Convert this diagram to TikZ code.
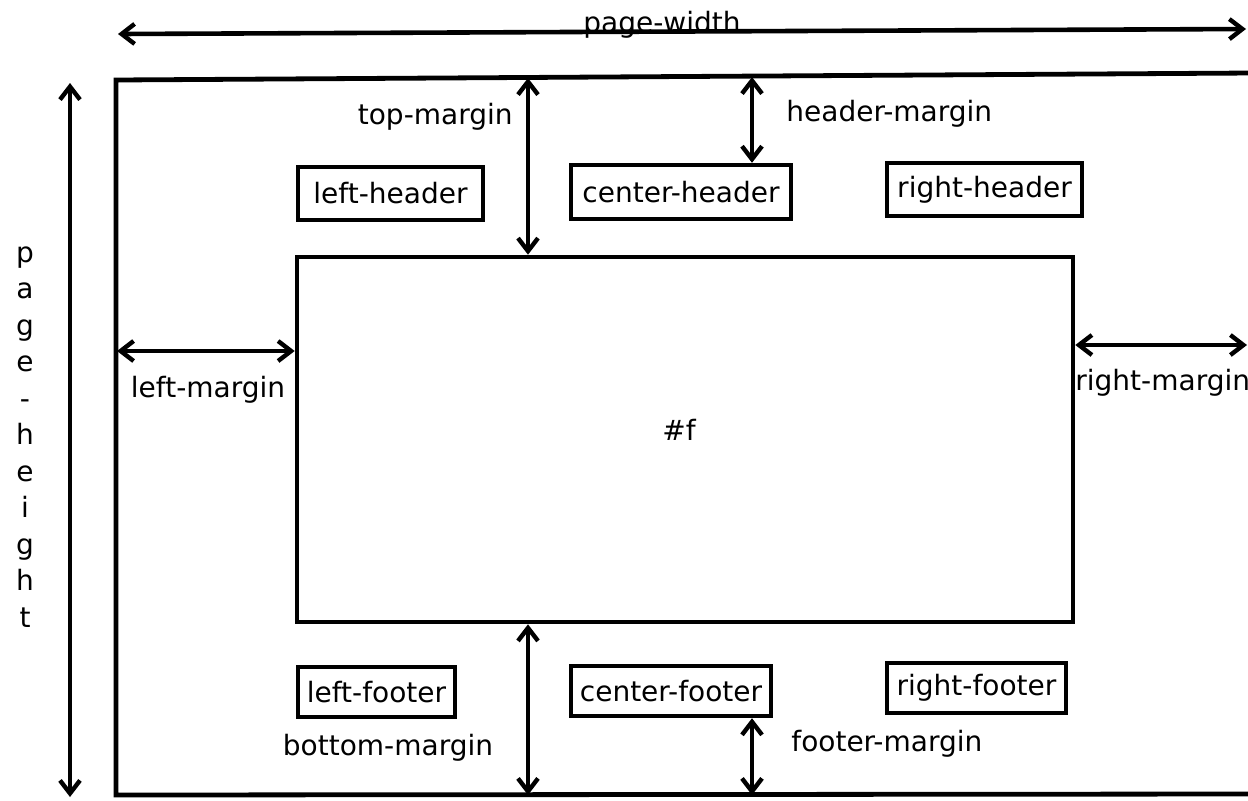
\documentclass[tikz,border=0pt]{standalone}
\usepackage{fontspec}
\setmainfont{DejaVu Sans}
\usetikzlibrary{arrows.meta}
\begin{document}
\begin{tikzpicture}[x=0.5pt,y=-0.5pt,
  lbl/.style={font=\fontsize{14}{18}\selectfont, inner sep=0pt},
  hbox/.style={draw, line width=2.2pt, font=\fontsize{14}{18}\selectfont, inner sep=0pt},
  barb/.tip={Straight Barb[length=6.5pt,width=10pt,line width=2.2pt]},
  dim/.style={line width=2.3pt, barb-barb},
  frameline/.style={line width=2.4pt, line join=miter}]
\useasboundingbox (0,0) rectangle (1248,800);

% page frame (open on the right, cut by the picture edge)
\coordinate (pTR) at (1252,73);
\coordinate (pTL) at (116,80);
\coordinate (pBL) at (116,795);
\coordinate (pBR) at (1252,794);
\draw[frameline] (pTR) -- (pTL) -- (pBL) -- (pBR);

% header / footer boxes
\node[hbox, minimum width=92.5pt, minimum height=26.5pt] (lhead) at (390.5,193.5) {left-header};
\node[hbox, minimum width=110pt,  minimum height=27pt]   (chead) at (681,192)     {center-header};
\node[hbox, minimum width=97.5pt, minimum height=26.5pt] (rhead) at (984.5,189.5) {right-header};
\node[hbox, minimum width=78.5pt, minimum height=25pt]   (lfoot) at (376.5,692)   {left-footer};
\node[hbox, minimum width=100pt,  minimum height=25pt]   (cfoot) at (671,691)     {center-footer};
\node[hbox, minimum width=89.5pt, minimum height=25pt]   (rfoot) at (976.5,688)   {right-footer};

% main body box
\node[draw, line width=2.3pt, minimum width=388pt, minimum height=182.5pt, inner sep=0pt] (main) at (685,439.5) {};
\node[lbl, anchor=base] (ftxt) at (679,440) {\#f};

% page-width
\coordinate (pwL) at (118,34);
\coordinate (pwR) at (1246,29);
\draw[dim] (pwL) -- (pwR);
\node[lbl, anchor=base] (pwlab) at (662,32) {page-width};

% page-height
\coordinate (phT) at (70,83);
\coordinate (phB) at (70,797);
\draw[dim] (phT) -- (phB);
\foreach \c [count=\i] in {p,a,g,e,-,h,e,i,g,h,t}
  \node[lbl, anchor=base] (ph\i) at (25,{262+36.5*(\i-1)}) {\c};

% top-margin
\coordinate (tmT) at (528,78);
\draw[dim] (tmT) -- (main.north -| tmT);
\node[lbl, anchor=base east] (tmlab) at (513,124) {top-margin};

% header-margin
\coordinate (hmT) at (752,77);
\draw[dim] (hmT) -- (chead.north -| hmT);
\node[lbl, anchor=base west] (hmlab) at (786,121) {header-margin};

% left-margin
\coordinate (lmL) at (117,351);
\draw[dim] (lmL) -- (main.west |- lmL);
\node[lbl, anchor=base] (lmlab) at (208,397) {left-margin};

% right-margin
\coordinate (rmR) at (1247,345);
\draw[dim] (main.east |- rmR) -- (rmR);
\node[lbl, anchor=base west] (rmlab) at (1075,390) {right-margin};

% bottom-margin
\coordinate (bmB) at (528,795);
\draw[dim] (main.south -| bmB) -- (bmB);
\node[lbl, anchor=base] (bmlab) at (388,755) {bottom-margin};

% footer-margin
\coordinate (fmB) at (752,795);
\draw[dim] (cfoot.south -| fmB) -- (fmB);
\node[lbl, anchor=base west] (fmlab) at (791,751) {footer-margin};
\end{tikzpicture}
\end{document}
